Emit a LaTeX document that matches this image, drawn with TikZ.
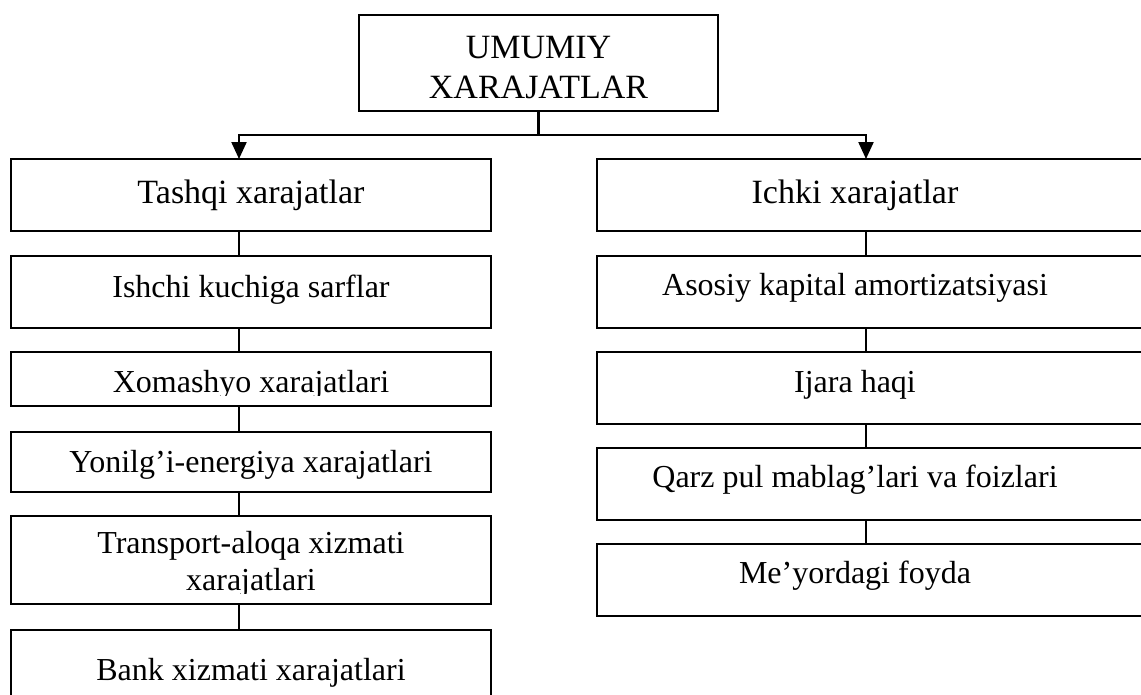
\documentclass[tikz,border=0pt]{standalone}
\usepackage{fontspec}
\setmainfont{Liberation Serif}
\usetikzlibrary{arrows.meta}
\begin{document}
\begin{tikzpicture}[x=1pt,y=1pt,
 box/.style={draw, line width=2.6pt, inner sep=0pt, outer sep=0pt},
 lbl/.style={anchor=base, inner sep=0pt, font=\fontsize{32}{36}\selectfont},
 big/.style={anchor=base, inner sep=0pt, font=\fontsize{34}{38}\selectfont},
 conn/.style={line width=2.2pt},
 arr/.style={conn, -{Triangle[width=15pt,length=17pt]}}]
\useasboundingbox (0,0) rectangle (1141,-694);
\clip (0,0) rectangle (1141,-694);
\fill[white] (0,0) rectangle (1141,-694);
% connector columns
\coordinate (lc) at (239,0);
\coordinate (rc) at (866,0);
% boxes
\node[box, minimum width=359pt, minimum height=96pt] (top) at (538.5,-63) {};
\node[box, minimum width=480pt, minimum height=72pt] (tashqi) at (251,-195) {};
\node[box, minimum width=480pt, minimum height=72pt] (ishchi) at (251,-292) {};
\node[box, minimum width=480pt, minimum height=54pt] (xom) at (251,-379) {};
\node[box, minimum width=480pt, minimum height=60pt] (yon) at (251,-462) {};
\node[box, minimum width=480pt, minimum height=88pt] (trans) at (251,-560) {};
\node[box, minimum width=480pt, minimum height=80pt] (bank) at (251,-670) {};
\node[box, minimum width=553pt, minimum height=72pt] (ichki) at (873.5,-195) {};
\node[box, minimum width=553pt, minimum height=72pt] (asosiy) at (873.5,-292) {};
\node[box, minimum width=553pt, minimum height=72pt] (ijara) at (873.5,-388) {};
\node[box, minimum width=553pt, minimum height=72pt] (qarz) at (873.5,-484) {};
\node[box, minimum width=553pt, minimum height=72pt] (meyor) at (873.5,-580) {};
% texts
\node[big] (t1) at (538.5,-58) {UMUMIY};
\node[big] (t2) at (538.5,-98) {XARAJATLAR};
\node[big] (tt) at (251,-203) {Tashqi xarajatlar};
\node[lbl] (ti) at (251,-297) {Ishchi kuchiga sarflar};
\begin{scope}
\clip (11,-352) rectangle (491,-395.5);
\node[lbl] (tx) at (251,-392) {Xomashyo xarajatlari};
\end{scope}
\node[lbl] (ty) at (251,-472) {Yonilg’i-energiya xarajatlari};
\node[lbl] (ttr1) at (251,-553) {Transport-aloqa xizmati};
\begin{scope}
\clip (11,-560) rectangle (491,-593.5);
\node[lbl] (ttr2) at (251,-590) {xarajatlari};
\end{scope}
\node[lbl] (tb) at (251,-680) {Bank xizmati xarajatlari};
\node[big] (tic) at (855,-203) {Ichki xarajatlar};
\node[lbl] (tas) at (855,-295) {Asosiy kapital amortizatsiyasi};
\node[lbl] (tij) at (855,-392) {Ijara haqi};
\node[lbl] (tq) at (855,-487) {Qarz pul mablag’lari va foizlari};
\node[lbl] (tm) at (855,-583) {Me’yordagi foyda};
% connectors
\coordinate (bus) at (538.5,-135);
\draw[conn] (top.south) -- (bus);
\draw[arr] (bus) -| (tashqi.north -| lc);
\draw[arr] (bus) -| (ichki.north -| rc);
\draw[conn] (tashqi.south -| lc) -- (ishchi.north -| lc);
\draw[conn] (ishchi.south -| lc) -- (xom.north -| lc);
\draw[conn] (xom.south -| lc) -- (yon.north -| lc);
\draw[conn] (yon.south -| lc) -- (trans.north -| lc);
\draw[conn] (trans.south -| lc) -- (bank.north -| lc);
\draw[conn] (ichki.south -| rc) -- (asosiy.north -| rc);
\draw[conn] (asosiy.south -| rc) -- (ijara.north -| rc);
\draw[conn] (ijara.south -| rc) -- (qarz.north -| rc);
\draw[conn] (qarz.south -| rc) -- (meyor.north -| rc);
\end{tikzpicture}
\end{document}
